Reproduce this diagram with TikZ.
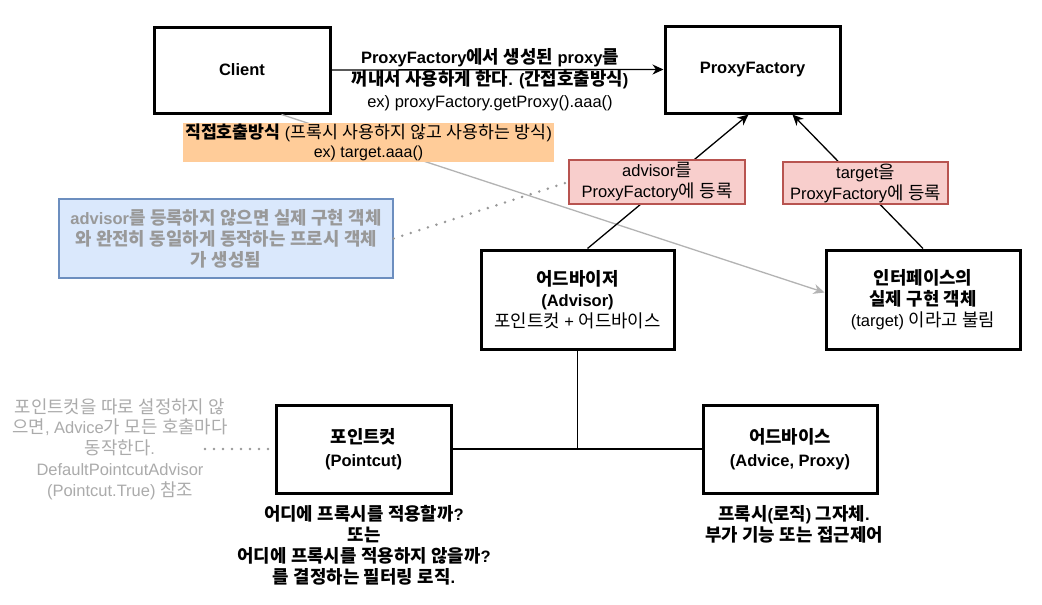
\documentclass[tikz,border=0pt]{standalone}
\usepackage{fontspec}
\setmainfont{Liberation Sans}
\newfontfamily\krfont{Noto Sans CJK KR}[Scale=1.08]
\usetikzlibrary{arrows.meta}
\XeTeXinterchartokenstate=1
\newXeTeXintercharclass\krclass
\count255="AC00
\loop
  \XeTeXcharclass\count255=\krclass
  \ifnum\count255<"D7A3 \advance\count255 by 1
\repeat
\XeTeXinterchartoks 0 \krclass = {\krfont}
\XeTeXinterchartoks 4095 \krclass = {\krfont}
\XeTeXinterchartoks \krclass 0 = {\rmfamily}
\XeTeXinterchartoks \krclass 4095 = {\rmfamily}
\definecolor{orangefill}{HTML}{FFCC99}
\definecolor{redfill}{HTML}{F8CECC}
\definecolor{redline}{HTML}{B85450}
\definecolor{bluefill}{HTML}{DAE8FC}
\definecolor{blueline}{HTML}{6C8EBF}
\definecolor{notegray}{HTML}{999999}
\definecolor{lightnote}{HTML}{ABABAB}
\definecolor{linegray}{HTML}{B3B3B3}
\newcommand\basefs{\fontsize{16.5}{21}\selectfont}
\begin{document}
\begin{tikzpicture}[x=1pt,y=-1pt,
  every node/.style={font=\basefs},
  box/.style={draw, line width=3pt, inner sep=0pt, align=center, font=\basefs\bfseries},
  redlbl/.style={draw=redline, fill=redfill, line width=1.3pt, inner sep=0pt, align=center},
  conn/.style={line width=1.3pt},
  arr/.style={-{Stealth[length=11pt,width=10pt,inset=3.5pt]}},
  grayconn/.style={line width=1.3pt, draw=linegray},
  dotline/.style={draw=notegray, line width=2.8pt, line cap=round, dash pattern=on 0pt off 9pt},
  plain/.style={align=center, inner sep=0pt}]
\fill[white] (0,0) rectangle (1042,605);
\useasboundingbox (0,0) rectangle (1042,605);
% boxes
\node[box, minimum width=176pt, minimum height=86pt] (client) at (242,70) {Client};
\node[box, minimum width=175pt, minimum height=87pt] (pf) at (752.5,69.5) {ProxyFactory};
\node[box, minimum width=193pt, minimum height=99pt] (advisor) at (577.5,299.5) {어드바이저\\(Advisor)\\\mdseries 포인트컷 + 어드바이스};
\node[box, minimum width=194pt, minimum height=99pt] (target) at (923,299.5) {인터페이스의\\실제 구현 객체\\\mdseries (target) 이라고 불림};
\node[box, minimum width=175pt, minimum height=88pt, font=\fontsize{16.5}{23}\selectfont\bfseries] (pointcut) at (363.5,449) {포인트컷\\(Pointcut)};
\node[box, minimum width=174pt, minimum height=88pt, font=\fontsize{16.5}{23}\selectfont\bfseries] (advice) at (790,449) {어드바이스\\(Advice, Proxy)};
% connectors
\draw[conn, arr] (client.east) -- (pf.west);
\draw[grayconn, arr] ([xshift=-50pt]client.south east) -- ([yshift=7pt]target.west);
\draw[conn, arr] ([xshift=10pt]advisor.north) -- ([xshift=-4pt]pf.south);
\draw[conn, arr] (target.north) -- ([xshift=40pt]pf.south);
\coordinate (junc) at (advisor.south |- pointcut.east);
\draw[conn] (pointcut.east) -- (advice.west);
\draw[conn] (advisor.south) -- (junc);
% labels
\node[plain, font=\fontsize{16.5}{22}\selectfont] (calllbl) at (490,80) {\textbf{ProxyFactory에서 생성된 proxy를}\\\textbf{꺼내서 사용하게 한다. (간접호출방식)}\\ex) proxyFactory.getProxy().aaa()};
\node[fill=orangefill, inner sep=0pt, minimum width=371pt, minimum height=39pt, align=center, font=\fontsize{16}{19.5}\selectfont] (direct) at (368.5,142.5) {\textbf{직접호출방식} (프록시 사용하지 않고 사용하는 방식)\\ex) target.aaa()};
\node[redlbl, minimum width=176pt, minimum height=44pt] (advlbl) at (657,182) {advisor를\\ProxyFactory에 등록};
\node[redlbl, minimum width=165pt, minimum height=42pt] (tgtlbl) at (865.5,183) {target을\\ProxyFactory에 등록};
\node[draw=blueline, fill=bluefill, line width=1.3pt, minimum width=334pt, minimum height=79pt, inner sep=0pt, align=center, text=notegray, font=\basefs\bfseries] (bluenote) at (226,238.5) {advisor를 등록하지 않으면 실제 구현 객체\\와 완전히 동일하게 동작하는 프로시 객체\\가 생성됨};
\draw[dotline] (bluenote.east) -- (advlbl.west);
\node[plain, text=lightnote, font=\fontsize{16.5}{20.7}\selectfont] (pcnote) at (120,449) {포인트컷을 따로 설정하지 않\\으면, Advice가 모든 호출마다\\동작한다.\\DefaultPointcutAdvisor\\(Pointcut.True) 참조};
\coordinate (pcdot) at (205,449);
\draw[dotline] (pcdot) -- (pointcut.west);
\node[plain, font=\basefs\bfseries] (pcdesc) at (364,545.5) {어디에 프록시를 적용할까?\\또는\\어디에 프록시를 적용하지 않을까?\\를 결정하는 필터링 로직.};
\node[plain, font=\basefs\bfseries] (advdesc) at (794,524) {프록시(로직) 그자체.\\부가 기능 또는 접근제어};
\end{tikzpicture}
\end{document}
